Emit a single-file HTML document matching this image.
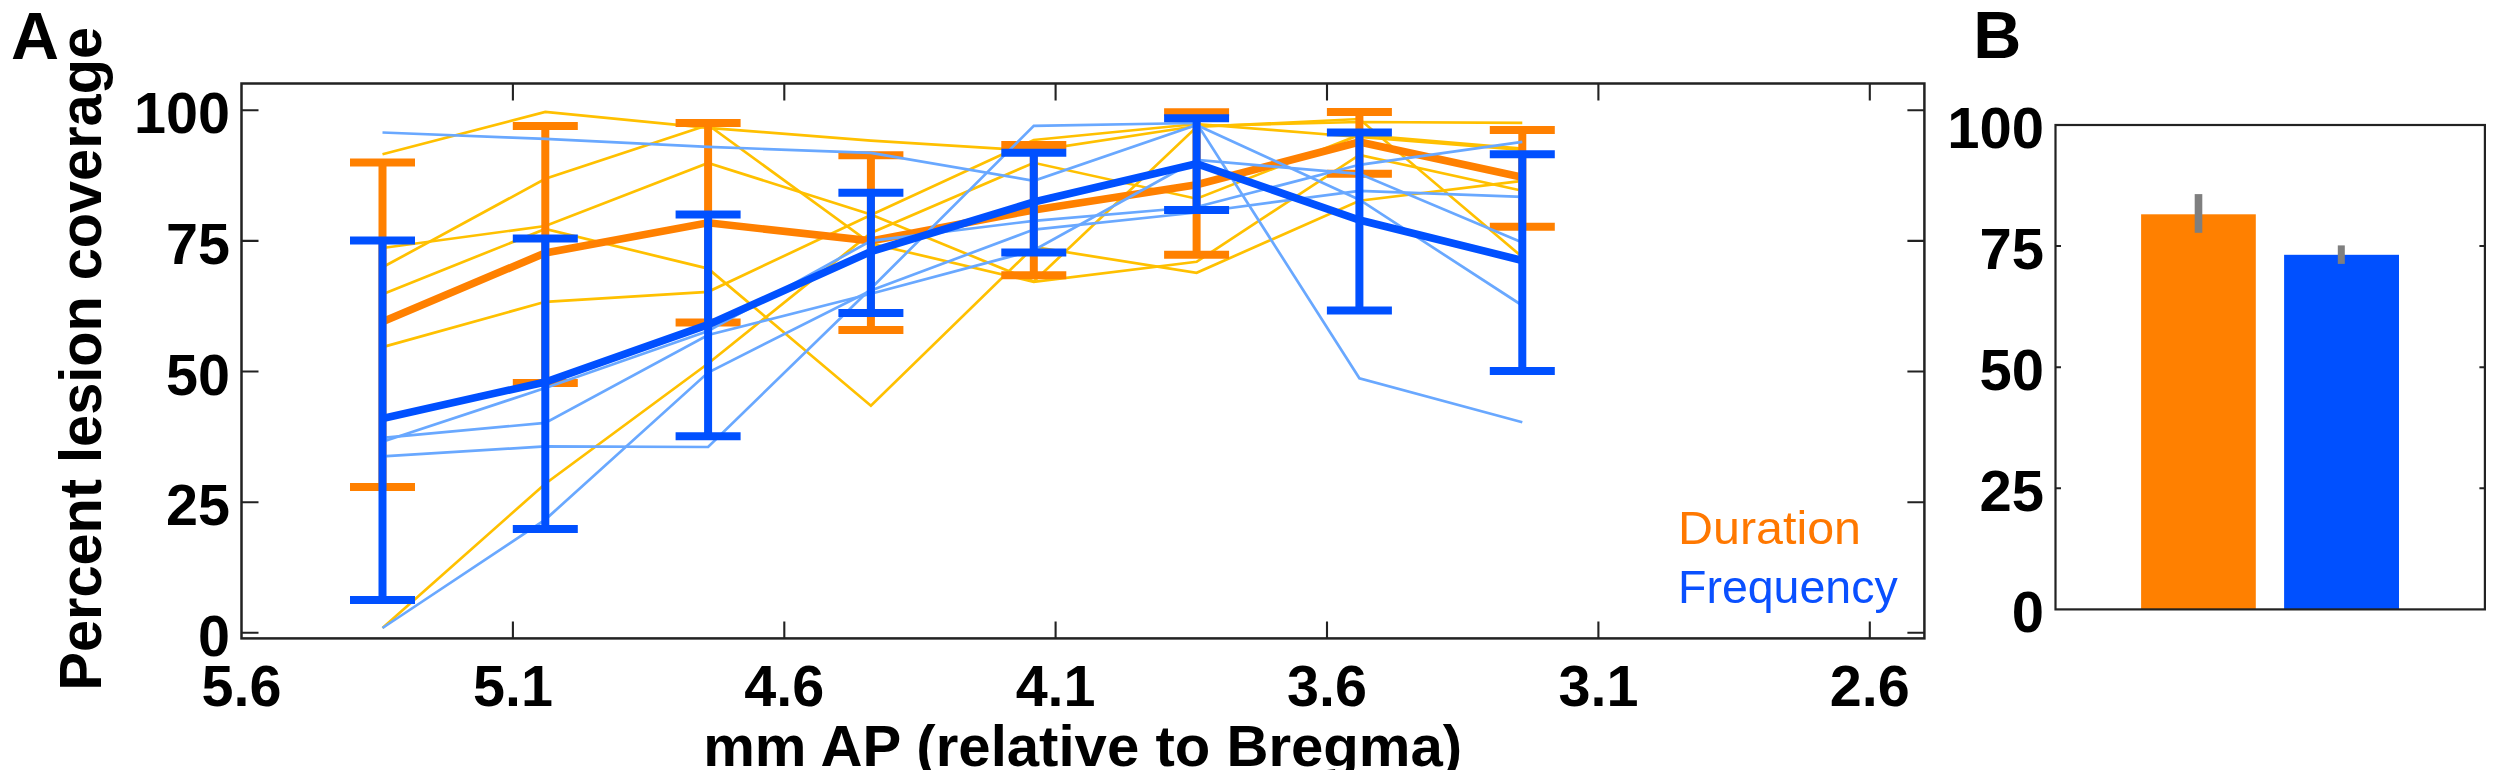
<!DOCTYPE html>
<html><head><meta charset="utf-8"><title>Lesion coverage</title>
<style>
html,body{margin:0;padding:0;background:#fff}
body{width:2500px;height:782px;overflow:hidden;position:relative}
svg{display:block;position:absolute;left:0;top:0;filter:blur(0.55px)}
text{font-family:"Liberation Sans",Arial,Helvetica,sans-serif;font-weight:700;fill:#000}
.tl text{font-size:57.5px}
.tb text{font-size:58px}
.pl{font-size:66.5px}
.leg{font-weight:400;font-size:46.5px}
</style></head><body>
<svg width="2500" height="782" viewBox="0 0 2500 782">
<defs><clipPath id="cb"><rect x="0" y="0" width="2500" height="770"/></clipPath></defs>
<rect width="2500" height="782" fill="#fff"/>
<text class="pl" x="11" y="58.5">A</text>
<text class="pl" x="1973.3" y="58.4">B</text>
<text transform="translate(101.4 690.5) rotate(-90)" font-size="59" textLength="663.5" lengthAdjust="spacingAndGlyphs">Percent lesion coverage</text>
<g clip-path="url(#cb)"><text x="1082.7" y="766.2" text-anchor="middle" font-size="57" textLength="759" lengthAdjust="spacingAndGlyphs">mm AP (relative to Bregma)</text></g>
<g id="thin-yellow"><polyline points="382.5,154.2 545.3,111.9 708.1,127.9 870.9,140.6 1033.8,150.8 1196.6,126.0 1359.4,122.0 1522.3,122.9" fill="none" stroke="#FFC000" stroke-width="2.7" stroke-linejoin="miter"/>
<polyline points="382.5,267.3 545.3,178.8 708.1,124.9 870.9,243.5 1033.8,281.8 1196.6,261.8 1359.4,154.9 1522.3,190.8" fill="none" stroke="#FFC000" stroke-width="2.7" stroke-linejoin="miter"/>
<polyline points="382.5,248.0 545.3,226.0 708.1,163.0 870.9,214.4 1033.8,281.5 1196.6,127.0 1359.4,119.0 1522.3,257.0" fill="none" stroke="#FFC000" stroke-width="2.7" stroke-linejoin="miter"/>
<polyline points="382.5,294.2 545.3,229.0 708.1,268.6 870.9,405.7 1033.8,247.0 1196.6,272.8 1359.4,200.7 1522.3,180.8" fill="none" stroke="#FFC000" stroke-width="2.7" stroke-linejoin="miter"/>
<polyline points="382.5,347.1 545.3,301.8 708.1,291.8 870.9,215.0 1033.8,140.0 1196.6,124.0 1359.4,137.0 1522.3,150.0" fill="none" stroke="#FFC000" stroke-width="2.7" stroke-linejoin="miter"/>
<polyline points="382.5,628.0 545.3,483.7 708.1,363.5 870.9,233.0 1033.8,162.8 1196.6,198.7 1359.4,134.9 1522.3,148.5" fill="none" stroke="#FFC000" stroke-width="2.7" stroke-linejoin="miter"/></g>
<g id="orange"><polyline points="382.5,321.8 545.3,252.9 708.1,222.8 870.9,240.9 1033.8,210.0 1196.6,184.8 1359.4,142.0 1522.3,177.2" fill="none" stroke="#FF8000" stroke-width="7.6" stroke-linejoin="miter"/><path d="M382.5 162.4V487.1M350.0 162.4H415.0M350.0 487.1H415.0" stroke="#FF8000" stroke-width="8" fill="none"/>
<path d="M545.3 126.0V383.0M512.8 126.0H577.8M512.8 383.0H577.8" stroke="#FF8000" stroke-width="8" fill="none"/>
<path d="M708.1 122.9V322.5M675.6 122.9H740.6M675.6 322.5H740.6" stroke="#FF8000" stroke-width="8" fill="none"/>
<path d="M870.9 155.2V330.0M838.4 155.2H903.4M838.4 330.0H903.4" stroke="#FF8000" stroke-width="8" fill="none"/>
<path d="M1033.8 144.9V275.2M1001.3 144.9H1066.3M1001.3 275.2H1066.3" stroke="#FF8000" stroke-width="8" fill="none"/>
<path d="M1196.6 112.2V254.8M1164.1 112.2H1229.1M1164.1 254.8H1229.1" stroke="#FF8000" stroke-width="8" fill="none"/>
<path d="M1359.4 112.0V173.8M1326.9 112.0H1391.9M1326.9 173.8H1391.9" stroke="#FF8000" stroke-width="8" fill="none"/>
<path d="M1522.3 129.9V226.8M1489.8 129.9H1554.8M1489.8 226.8H1554.8" stroke="#FF8000" stroke-width="8" fill="none"/></g>
<g id="thin-blue"><polyline points="382.5,132.5 545.3,138.9 708.1,146.9 870.9,152.8 1033.8,180.8 1196.6,125.0 1359.4,199.7 1522.3,305.5" fill="none" stroke="#69A8FF" stroke-width="2.7" stroke-linejoin="miter"/>
<polyline points="382.5,441.8 545.3,388.0 708.1,331.0 870.9,240.9 1033.8,220.8 1196.6,207.0 1359.4,164.8 1522.3,141.9" fill="none" stroke="#69A8FF" stroke-width="2.7" stroke-linejoin="miter"/>
<polyline points="382.5,437.8 545.3,422.9 708.1,335.0 870.9,293.8 1033.8,250.3 1196.6,160.0 1359.4,173.8 1522.3,242.6" fill="none" stroke="#69A8FF" stroke-width="2.7" stroke-linejoin="miter"/>
<polyline points="382.5,456.4 545.3,446.4 708.1,447.0 870.9,288.5 1033.8,125.9 1196.6,123.0 1359.4,378.3 1522.3,422.2" fill="none" stroke="#69A8FF" stroke-width="2.7" stroke-linejoin="miter"/>
<polyline points="382.5,628.0 545.3,519.6 708.1,372.5 870.9,290.5 1033.8,229.6 1196.6,212.5 1359.4,190.8 1522.3,196.8" fill="none" stroke="#69A8FF" stroke-width="2.7" stroke-linejoin="miter"/></g>
<g id="blue"><polyline points="382.5,418.5 545.3,382.0 708.1,324.7 870.9,251.5 1033.8,202.0 1196.6,163.7 1359.4,220.0 1522.3,260.5" fill="none" stroke="#0050FF" stroke-width="7.6" stroke-linejoin="miter"/><path d="M382.5 240.6V600.1M350.0 240.6H415.0M350.0 600.1H415.0" stroke="#0050FF" stroke-width="8" fill="none"/>
<path d="M545.3 238.6V529.0M512.8 238.6H577.8M512.8 529.0H577.8" stroke="#0050FF" stroke-width="8" fill="none"/>
<path d="M708.1 214.5V436.2M675.6 214.5H740.6M675.6 436.2H740.6" stroke="#0050FF" stroke-width="8" fill="none"/>
<path d="M870.9 192.7V313.1M838.4 192.7H903.4M838.4 313.1H903.4" stroke="#0050FF" stroke-width="8" fill="none"/>
<path d="M1033.8 152.8V252.4M1001.3 152.8H1066.3M1001.3 252.4H1066.3" stroke="#0050FF" stroke-width="8" fill="none"/>
<path d="M1196.6 118.3V210.1M1164.1 118.3H1229.1M1164.1 210.1H1229.1" stroke="#0050FF" stroke-width="8" fill="none"/>
<path d="M1359.4 132.5V310.4M1326.9 132.5H1391.9M1326.9 310.4H1391.9" stroke="#0050FF" stroke-width="8" fill="none"/>
<path d="M1522.3 154.3V371.0M1489.8 154.3H1554.8M1489.8 371.0H1554.8" stroke="#0050FF" stroke-width="8" fill="none"/></g>
<rect x="241.5" y="83.5" width="1682.9" height="554.9" fill="none" stroke="#222" stroke-width="2.5"/>
<path d="M512.9 638.4v-17M512.9 83.5v17M784.3 638.4v-17M784.3 83.5v17M1055.6 638.4v-17M1055.6 83.5v17M1327.0 638.4v-17M1327.0 83.5v17M1598.4 638.4v-17M1598.4 83.5v17M1869.8 638.4v-17M1869.8 83.5v17M241.5 110.3h17M1924.4 110.3h-17M241.5 240.9h17M1924.4 240.9h-17M241.5 371.5h17M1924.4 371.5h-17M241.5 502.2h17M1924.4 502.2h-17M241.5 632.8h17M1924.4 632.8h-17" stroke="#222" stroke-width="2.1" fill="none"/>
<g class="tl"><text x="241.5" y="706.3" text-anchor="middle">5.6</text>
<text x="512.9" y="706.3" text-anchor="middle">5.1</text>
<text x="784.3" y="706.3" text-anchor="middle">4.6</text>
<text x="1055.6" y="706.3" text-anchor="middle">4.1</text>
<text x="1327.0" y="706.3" text-anchor="middle">3.6</text>
<text x="1598.4" y="706.3" text-anchor="middle">3.1</text>
<text x="1869.8" y="706.3" text-anchor="middle">2.6</text>
<text x="230" y="133.3" text-anchor="end">100</text>
<text x="230" y="263.9" text-anchor="end">75</text>
<text x="230" y="394.5" text-anchor="end">50</text>
<text x="230" y="525.2" text-anchor="end">25</text>
<text x="230" y="655.8" text-anchor="end">0</text></g>
<text class="leg" x="1678" y="543.7" style="fill:#FF7800" textLength="183" lengthAdjust="spacingAndGlyphs">Duration</text>
<text class="leg" x="1678" y="602.8" style="fill:#0A50FF">Frequency</text>
<rect x="2141.1" y="214.3" width="114.7" height="395.1" fill="#FF8000"/>
<rect x="2284.1" y="254.8" width="114.9" height="354.6" fill="#0050FF"/>
<rect x="2194.7" y="194.1" width="7.6" height="38.7" fill="#7f7f7f"/>
<rect x="2337.8" y="245.4" width="7" height="18.5" fill="#7f7f7f"/>
<rect x="2055.5" y="125" width="429.4" height="484.4" fill="none" stroke="#222" stroke-width="2.2"/>
<path d="M2055.5 246.1h5.5M2484.9 246.1h-5.5M2055.5 367.2h5.5M2484.9 367.2h-5.5M2055.5 488.3h5.5M2484.9 488.3h-5.5" stroke="#222" stroke-width="2" fill="none"/>
<g class="tl tb"><text x="2044" y="148.0" text-anchor="end">100</text>
<text x="2044" y="269.1" text-anchor="end">75</text>
<text x="2044" y="390.2" text-anchor="end">50</text>
<text x="2044" y="511.3" text-anchor="end">25</text>
<text x="2044" y="632.4" text-anchor="end">0</text></g>
</svg>
</body></html>
